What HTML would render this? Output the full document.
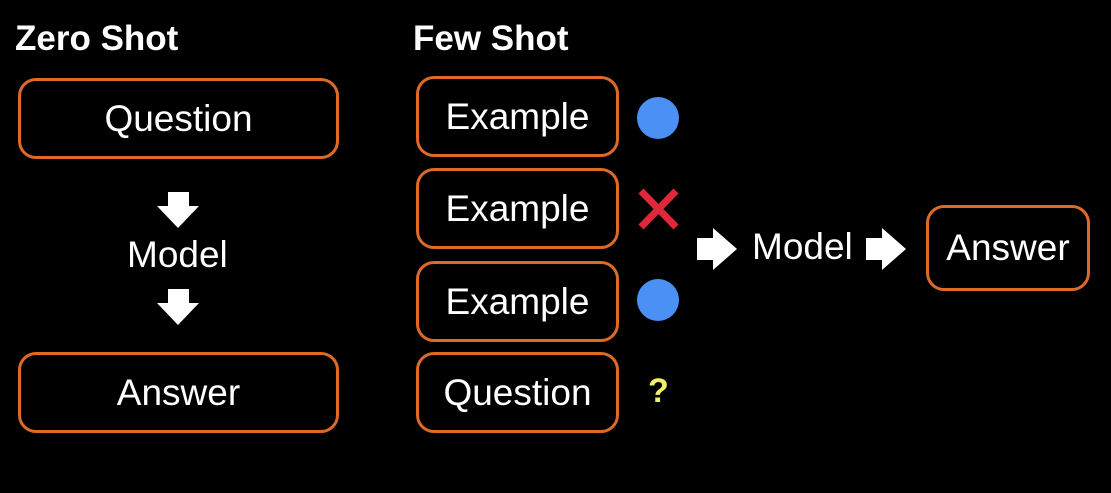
<!DOCTYPE html>
<html><head><meta charset="utf-8"><style>
html,body{margin:0;padding:0;background:#000;}
#s{position:relative;width:1111px;height:493px;overflow:hidden;background:#000;font-family:"Liberation Sans",sans-serif;color:#fff;}
.t{position:absolute;font-weight:bold;font-size:35px;}
.b{position:absolute;box-sizing:border-box;border:3px solid #dd6a26;border-radius:18px;display:flex;align-items:center;justify-content:center;font-size:37px;}
.l{position:absolute;font-size:37px;}
</style></head><body>
<div id="s">
<div class="t" style="left:15px;top:19px">Zero Shot</div>
<div class="t" style="left:413px;top:19px">Few Shot</div>
<div class="b" style="left:18px;top:78px;width:321px;height:81px">Question</div>
<div class="b" style="left:18px;top:352px;width:321px;height:81px">Answer</div>
<div class="l" style="left:127px;top:234px">Model</div>
<div class="b" style="left:416px;top:76px;width:203px;height:81px">Example</div>
<div class="b" style="left:416px;top:168px;width:203px;height:81px">Example</div>
<div class="b" style="left:416px;top:261px;width:203px;height:81px">Example</div>
<div class="b" style="left:416px;top:352px;width:203px;height:81px">Question</div>
<div class="l" style="left:752px;top:226px">Model</div>
<div class="b" style="left:926px;top:205px;width:164px;height:86px">Answer</div>
<div class="t" style="left:648px;top:372px;color:#f3ee6a;font-size:34px">?</div>
<svg width="1111" height="493" style="position:absolute;left:0;top:0">
<g fill="#fff">
<polygon points="168,192 189,192 189,206 199,206 178,228 157,206 168,206"/>
<polygon points="168,289 189,289 189,303 199,303 178,325 157,303 168,303"/>
<polygon points="697,238 713,238 713,228 737,249 713,270 713,260 697,260"/>
<polygon points="866,238 882,238 882,228 906,249 882,270 882,260 866,260"/>
</g>
<circle cx="658" cy="118" r="21" fill="#4a90f5"/>
<circle cx="658" cy="300" r="21" fill="#4a90f5"/>
<g stroke="#e0283c" stroke-width="7">
<line x1="641" y1="191" x2="676" y2="227"/><line x1="676" y1="191" x2="641" y2="227"/>
</g>
</svg>
</div>
</body></html>
